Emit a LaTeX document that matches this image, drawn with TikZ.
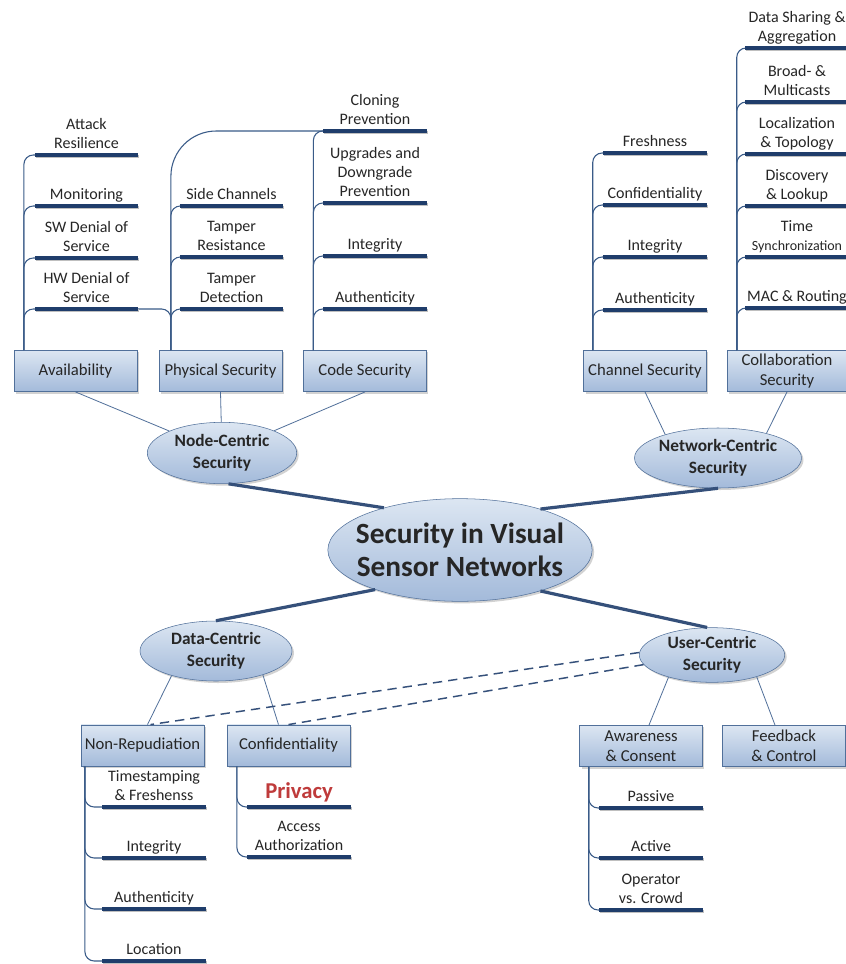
\documentclass[tikz,border=0pt]{standalone}
\usepackage{fontspec}
\setmainfont{Carlito}
\usetikzlibrary{shapes.geometric,shadows}

\definecolor{boxtop}{HTML}{DCE6F2}
\definecolor{boxbot}{HTML}{A3BADA}
\definecolor{boxline}{HTML}{51709A}
\definecolor{navy}{HTML}{1F3D6B}
\definecolor{twigblue}{HTML}{3A5B88}
\definecolor{privred}{HTML}{BF3B3B}

\tikzset{topicbox/.style={draw=boxline,rectangle,top color=boxtop,bottom color=boxbot,
        minimum width=92pt,minimum height=31pt,inner xsep=0.5pt,inner ysep=1pt,align=center,
        text=black!85,font=\fontsize{12.5}{15}\selectfont,
        drop shadow={shadow xshift=1.5pt,shadow yshift=-1.5pt,fill=black!35}},
    hub/.style={draw=boxline,ellipse,top color=boxtop,bottom color=boxbot,inner sep=0pt,
        align=center,text=black!85,font=\bfseries\fontsize{13}{16.5}\selectfont,
        drop shadow={shadow xshift=1.5pt,shadow yshift=-1.5pt,fill=black!35}},
    leaf/.style={anchor=south,inner xsep=0pt,inner ysep=0.4pt,minimum width=77pt,align=center,
        text=black!85,font=\fontsize{12}{14.3}\selectfont,execute at end node=\strut},
    uline/.style={navy,line width=2.4pt,
        preaction={draw=black!25,line width=2.4pt,transform canvas={shift={(0.8pt,-1pt)}}}},
    twig/.style={twigblue,line width=0.8pt,rounded corners=7pt},
    link/.style={boxline,line width=0.6pt},
    spoke/.style={navy!90,line width=2.4pt},
    crosslink/.style={navy!90,line width=1.1pt,dash pattern=on 7pt off 4.5pt}}

\begin{document}
\begin{tikzpicture}[x=0.75pt,y=-0.75pt]

\fill [white,use as bounding box] (0,0) rectangle (846,964);
\clip (0,0) rectangle (846,964);

% hubs
\node (core) [hub,minimum width=198pt,minimum height=77pt,inner xsep=-8pt,
    font=\bfseries\fontsize{22}{25}\selectfont] at (460,550) {Security in Visual\\Sensor Networks};
\node (nodec) [hub,minimum width=112pt,minimum height=46pt] at (222,453) {Node-Centric\\Security};
\node (netc) [hub,minimum width=122pt,minimum height=45pt] at (718,458) {Network-Centric\\Security};
\node (datac) [hub,minimum width=114pt,minimum height=45pt] at (216,651) {Data-Centric\\Security};
\node (userc) [hub,minimum width=109pt,minimum height=41pt] at (712,655) {User-Centric\\Security};

% boxes
\node (avail) [topicbox] at (75.5,371) {Availability};
\node (phys) [topicbox] at (220.5,371) {Physical Security};
\node (code) [topicbox] at (365,371) {Code Security};
\node (chan) [topicbox] at (645,371) {Channel Security};
\node (collab) [topicbox,minimum width=90pt] at (787,371) {Collaboration\\Security};
\node (nonrep) [topicbox] at (142.5,745.5) {Non-Repudiation};
\node (conf) [topicbox] at (288.5,745.5) {Confidentiality};
\node (aware) [topicbox] at (641,746) {Awareness\\\& Consent};
\node (feedb) [topicbox] at (784,746) {Feedback\\\& Control};

\coordinate (availroot) at ([xshift=7.5pt]avail.north west);
\coordinate (physroot) at ([xshift=9pt]phys.north west);
\coordinate (coderoot) at ([xshift=7.5pt]code.north west);
\coordinate (chanroot) at ([xshift=7pt]chan.north west);
\coordinate (collabroot) at ([xshift=7.5pt]collab.north west);
\coordinate (nonreproot) at ([xshift=3pt]nonrep.south west);
\coordinate (confroot) at ([xshift=7.5pt]conf.south west);
\coordinate (awareroot) at ([xshift=7pt]aware.south west);

% spokes and links
\draw [spoke] (core.151) -- (nodec.-78);
\draw [spoke] (core.27) -- (netc.south);
\draw [spoke] (core.205) -- (datac.north);
\draw [spoke] (core.-27) -- (userc.100);

\draw [link] (avail.south) -- (nodec);
\draw [link] (phys.south) -- (nodec);
\draw [link] (code.south) -- (nodec);
\draw [link] (chan.south) -- (netc.156);
\draw [link] (collab.south) -- (netc.27);
\draw [link] (datac.209) -- ([xshift=3.75pt]nonrep.north);
\draw [link] (datac.-27) -- ([xshift=-7.5pt]conf.north);
\draw [link] (userc.207) -- ([xshift=6pt]aware.north);
\draw [link] (userc.-26) -- ([xshift=-6.75pt]feedb.north);

\draw [crosslink] (userc.178) -- ([xshift=6pt]nonrep.north);
\draw [crosslink] (userc.188) -- (conf.north);

% node-centric leaves
\foreach \nm/\yy/\txt in {atk/155/{Attack\\Resilience},mon/206/Monitoring,
    swdos/258/{SW Denial of\\Service},hwdos/309/{HW Denial of\\Service}}
{
    \node (\nm) [leaf] at (86.5,\yy) {\txt};
    \draw [twig] (availroot) |- (\nm.south west);
}
\foreach \nm/\yy/\txt in {side/206/Side Channels,tres/257/{Tamper\\Resistance},
    tdet/309/{Tamper\\Detection}}
{
    \node (\nm) [leaf] at (231.5,\yy) {\txt};
    \draw [twig] (physroot) |- (\nm.south west);
}
\foreach \nm/\yy/\txt in {clon/131/{Cloning\\Prevention},upgr/203/{Upgrades and\\Downgrade\\Prevention},
    cint/256/Integrity,cauth/309/Authenticity}
{
    \node (\nm) [leaf] at (375,\yy) {\txt};
    \draw [twig] (coderoot) |- (\nm.south west);
}
\draw [twig,rounded corners=34pt] (physroot) |- (clon.south west);
\draw [twig] (hwdos.south east) -| (physroot);

% network-centric leaves
\foreach \nm/\yy/\txt in {fresh/153/Freshness,chconf/205/Confidentiality,
    chint/257/Integrity,chauth/310/Authenticity}
{
    \node (\nm) [leaf] at (655,\yy) {\txt};
    \draw [twig] (chanroot) |- (\nm.south west);
}
\foreach \nm/\yy/\txt in {share/48/{Data Sharing \&\\Aggregation},bcast/102/{Broad- \&\\Multicasts},
    local/154/{Localization\\\& Topology},disc/206/{Discovery\\\& Lookup},
    tsync/257/{Time\\{\fontsize{10.5}{12}\selectfont Synchronization}},mac/308/MAC \& Routing}
{
    \node (\nm) [leaf] at (797,\yy) {\txt};
    \draw [twig] (collabroot) |- (\nm.south west);
}

% data-centric leaves
\foreach \nm/\yy/\txt in {tstamp/807/{Timestamping\\\& Freshenss},nint/858/Integrity,
    nauth/909/Authenticity,loc/961/Location}
{
    \node (\nm) [leaf] at (154,\yy) {\txt};
    \draw [twig] (nonreproot) |- (\nm.south west);
}
\node (priv) [leaf,text=privred,font=\bfseries\fontsize{17}{19}\selectfont] at (299,807) {Privacy};
\node (acc) [leaf] at (299,857) {Access\\Authorization};
\foreach \nm in {priv,acc}
    \draw [twig] (confroot) |- (\nm.south west);

% user-centric leaves
\foreach \nm/\yy/\txt in {pass/808/Passive,act/858/Active,oper/910/{Operator\\vs. Crowd}}
{
    \node (\nm) [leaf] at (651,\yy) {\txt};
    \draw [twig] (awareroot) |- (\nm.south west);
}

% underlines
\foreach \nm in {atk,mon,swdos,hwdos,side,tres,tdet,clon,upgr,cint,cauth,fresh,chconf,chint,chauth,
    share,bcast,local,disc,tsync,mac,tstamp,nint,nauth,loc,priv,acc,pass,act,oper}
    \draw [uline] (\nm.south west) -- (\nm.south east);

\end{tikzpicture}
\end{document}
